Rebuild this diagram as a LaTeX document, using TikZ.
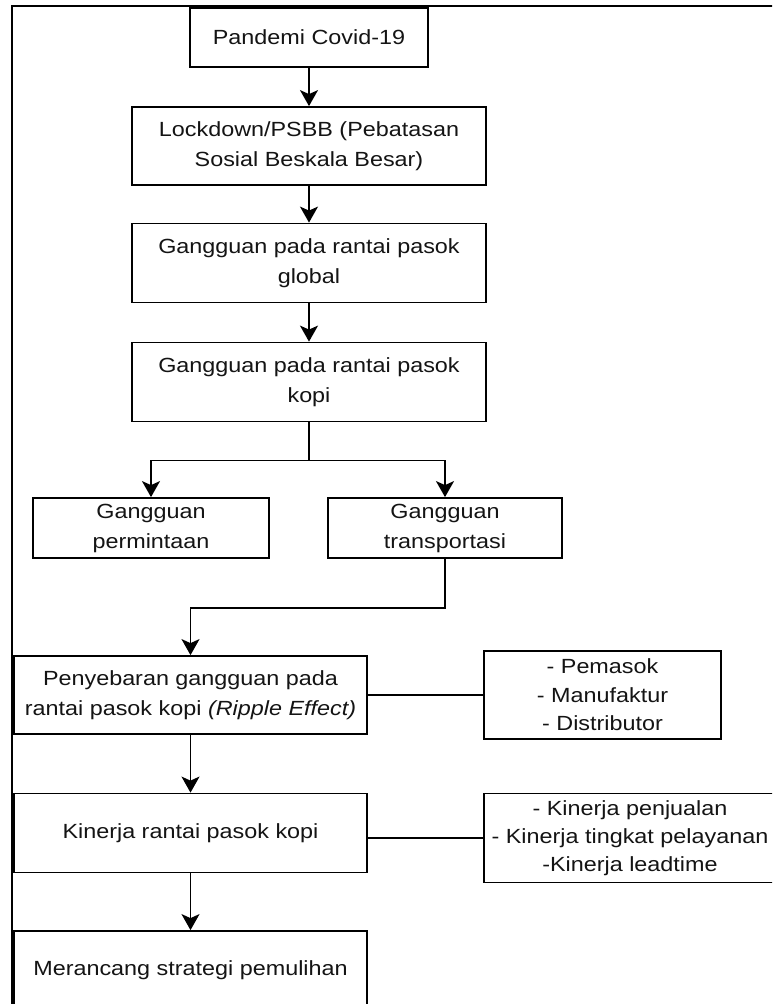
\documentclass[tikz,border=0pt]{standalone}
\usepackage{fontspec}
\setmainfont{Liberation Sans}[FakeStretch=1.14]
\usetikzlibrary{arrows.meta,calc}
\begin{document}
\begin{tikzpicture}[x=1pt,y=-1pt,
  box/.style={draw=black,line width=1.8pt,rectangle,inner sep=0pt,align=center,
    font=\fontsize{20.5}{30}\selectfont,text=black!92},
  conn/.style={draw=black,line width=1.8pt},
  arr/.style={conn,-{Stealth[length=16pt,width=18pt,inset=4pt]}}]
\useasboundingbox (0,0) rectangle (772,1004);
\clip (0,0) rectangle (772,1004);
\fill[white] (0,0) rectangle (772,1004);
% outer frame
\draw[conn] (12,6) rectangle (790,1020);
% nodes
\node[box,minimum width=238pt,minimum height=59pt] (b1) at (309,37.5) {Pandemi Covid-19};
\node[box,minimum width=354pt,minimum height=78pt] (b2) at (309,146) {Lockdown/PSBB (Pebatasan\\Sosial Beskala Besar)};
\node[box,minimum width=354pt,minimum height=79pt] (b3) at (309,263) {Gangguan pada rantai pasok\\global};
\node[box,minimum width=354pt,minimum height=79pt] (b4) at (309,382) {Gangguan pada rantai pasok\\kopi};
\node[box,minimum width=236pt,minimum height=60pt] (b5) at (151,528) {Gangguan\\permintaan};
\node[box,minimum width=234pt,minimum height=60pt] (b6) at (445,528) {Gangguan\\transportasi};
\node[box,minimum width=353pt,minimum height=78pt] (b7) at (190.5,695) {Penyebaran gangguan pada\\rantai pasok kopi \textit{(Ripple Effect)}};
\node[box,minimum width=237pt,minimum height=88pt,font=\fontsize{20.5}{28.5}\selectfont] (b8) at (602.5,695) {- Pemasok\\- Manufaktur\\- Distributor};
\node[box,minimum width=353pt,minimum height=79pt] (b9) at (190.5,833) {Kinerja rantai pasok kopi};
\node[box,minimum width=292pt,minimum height=89pt,font=\fontsize{20.5}{28}\selectfont] (b10) at (630,838) {- Kinerja penjualan\\- Kinerja tingkat pelayanan\\-Kinerja leadtime};
\node[box,minimum width=353pt,minimum height=78pt] (b11) at (190.5,970) {Merancang strategi pemulihan};
% junctions
\coordinate (j1) at ($(b4.south)+(0,38)$);
\coordinate (j2) at ($(b6.south)+(0,49)$);
% connectors
\draw[arr] (b1.south) -- (b2.north);
\draw[arr] (b2.south) -- (b3.north);
\draw[arr] (b3.south) -- (b4.north);
\draw[conn] (b4.south) -- (j1);
\draw[arr] (j1) -| (b5.north);
\draw[arr] (j1) -| (b6.north);
\draw[arr] (b6.south) -- (j2) -| (b7.north);
\draw[conn] (b7.east) -- (b8.west);
\draw[arr] (b7.south) -- (b9.north);
\draw[conn] (b10.west) -- (b10.west -| b9.east);
\draw[arr] (b9.south) -- (b11.north);
\end{tikzpicture}
\end{document}
